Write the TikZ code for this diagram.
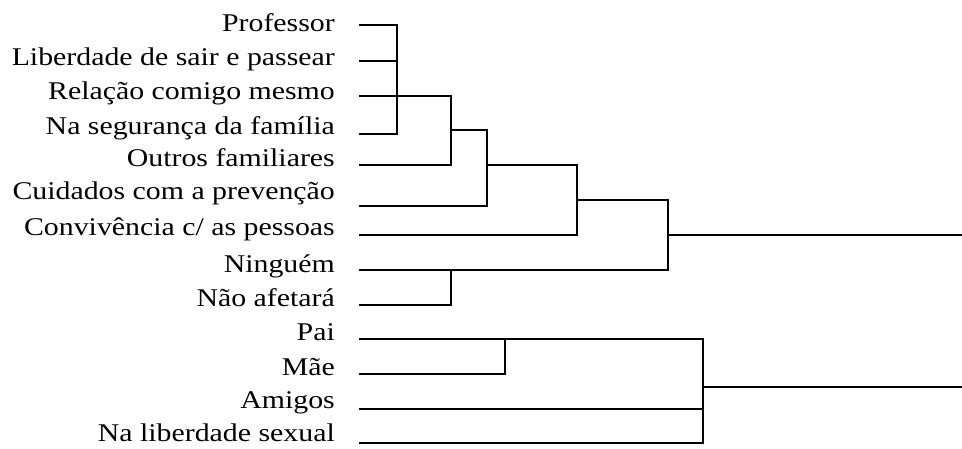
\documentclass[tikz,border=0pt]{standalone}
\usepackage{fontspec}
\setmainfont{Liberation Serif}
\newfontfamily\labelfont[FakeStretch=1.17]{Liberation Serif}
\begin{document}
\begin{tikzpicture}[x=1pt,y=-1pt,
  lbl/.style={anchor=base east,inner sep=0pt,font=\labelfont\fontsize{25.5}{30}\selectfont},
  link/.style={line width=1.6pt,line cap=rect}]
\useasboundingbox (0,0) rectangle (962,449);
% leaf labels (baseline) and start points of the leaf lines
\foreach \n/\b/\y/\t in {1/32/25/{Professor},2/66/61/{Liberdade de sair e passear},
  3/100/96/{Relação comigo mesmo},4/135/134/{Na segurança da família},
  5/167/165/{Outros familiares},6/200/206/{Cuidados com a prevenção},
  7/236/235/{Convivência c/ as pessoas},8/273/270/{Ninguém},9/307/305/{Não afetará},
  10/341/339/{Pai},11/375/374/{Mãe},12/408/409/{Amigos},13/441/443/{Na liberdade sexual}}{
  \node[lbl] (t\n) at (335,\b) {\t};
  \coordinate (a\n) at (360,\y);
}
% junction points
\coordinate (jA) at (397,96);
\coordinate (jB) at (451,130);
\coordinate (jC) at (487,165);
\coordinate (jD) at (577,200);
\coordinate (jE) at (451,270);
\coordinate (jF) at (668,235);
\coordinate (jG) at (505,339);
\coordinate (jH) at (703,387);
\coordinate (rF) at (962,235);
\coordinate (rH) at (962,387);
% cluster A
\draw[link] (a1) -- (a1 -| jA) -- (a4 -| jA) -- (a4);
\draw[link] (a2) -- (a2 -| jA);
\draw[link] (a3) -- (jA);
% cluster B
\draw[link] (jA) -- (jA -| jB) -- (a5 -| jB) -- (a5);
% cluster C
\draw[link] (jB) -- (jB -| jC) -- (a6 -| jC) -- (a6);
% cluster D
\draw[link] (jC) -- (jC -| jD) -- (a7 -| jD) -- (a7);
% cluster E
\draw[link] (a9) -- (a9 -| jE) -- (a8 -| jE);
% cluster F
\draw[link] (jD) -- (jD -| jF) -- (a8 -| jF) -- (a8);
\draw[link] (jF) -- (rF);
% cluster G
\draw[link] (a11) -- (a11 -| jG) -- (a10 -| jG);
% cluster H
\draw[link] (a10) -- (a10 -| jH) -- (a13 -| jH) -- (a13);
\draw[link] (a12) -- (a12 -| jH);
\draw[link] (jH) -- (rH);
\end{tikzpicture}
\end{document}
